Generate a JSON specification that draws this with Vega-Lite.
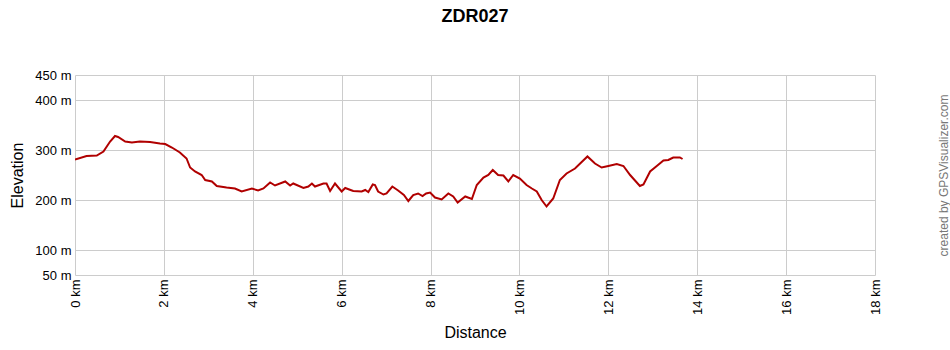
{
  "$schema": "https://vega.github.io/schema/vega-lite/v6.json",
  "width": 800,
  "height": 200,
  "autosize": "none",
  "padding": {"left": 75, "top": 75, "right": 75, "bottom": 75},
  "background": "white",
  "config": {
    "view": {"stroke": null},
    "font": "Liberation Sans",
    "axis": {"labelFont": "Liberation Sans", "titleFont": "Liberation Sans", "labelColor": "#000000", "titleColor": "#000000", "gridColor": "#cccccc", "gridOpacity": 1, "gridWidth": 1}
  },
  "title": {"text": "ZDR027", "fontSize": 18, "fontWeight": "bold", "font": "Liberation Sans", "anchor": "middle", "offset": 43, "color": "#000000"},
  "data": {"values": [
    {"km": 0.00, "ele": 281}, {"km": 0.26, "ele": 288}, {"km": 0.49, "ele": 289}, {"km": 0.64, "ele": 297},
    {"km": 0.79, "ele": 317}, {"km": 0.90, "ele": 328}, {"km": 0.97, "ele": 326}, {"km": 1.13, "ele": 317},
    {"km": 1.28, "ele": 315}, {"km": 1.46, "ele": 317}, {"km": 1.69, "ele": 316}, {"km": 1.91, "ele": 313},
    {"km": 2.03, "ele": 312}, {"km": 2.18, "ele": 305}, {"km": 2.36, "ele": 295}, {"km": 2.51, "ele": 283},
    {"km": 2.59, "ele": 265}, {"km": 2.70, "ele": 257}, {"km": 2.85, "ele": 250}, {"km": 2.93, "ele": 240},
    {"km": 3.08, "ele": 237}, {"km": 3.19, "ele": 228}, {"km": 3.41, "ele": 225}, {"km": 3.60, "ele": 223},
    {"km": 3.75, "ele": 217}, {"km": 3.98, "ele": 223}, {"km": 4.12, "ele": 219}, {"km": 4.24, "ele": 223},
    {"km": 4.39, "ele": 235}, {"km": 4.50, "ele": 229}, {"km": 4.73, "ele": 237}, {"km": 4.84, "ele": 229},
    {"km": 4.91, "ele": 233}, {"km": 5.14, "ele": 224}, {"km": 5.25, "ele": 227}, {"km": 5.33, "ele": 233},
    {"km": 5.40, "ele": 227}, {"km": 5.59, "ele": 233}, {"km": 5.66, "ele": 233}, {"km": 5.74, "ele": 218},
    {"km": 5.85, "ele": 233}, {"km": 6.00, "ele": 217}, {"km": 6.08, "ele": 224}, {"km": 6.26, "ele": 218},
    {"km": 6.45, "ele": 217}, {"km": 6.53, "ele": 220}, {"km": 6.60, "ele": 216}, {"km": 6.70, "ele": 231},
    {"km": 6.75, "ele": 230}, {"km": 6.82, "ele": 217}, {"km": 6.94, "ele": 211}, {"km": 7.01, "ele": 213},
    {"km": 7.14, "ele": 227}, {"km": 7.27, "ele": 219}, {"km": 7.40, "ele": 210}, {"km": 7.50, "ele": 198},
    {"km": 7.61, "ele": 210}, {"km": 7.72, "ele": 213}, {"km": 7.82, "ele": 208}, {"km": 7.90, "ele": 213},
    {"km": 7.99, "ele": 215}, {"km": 8.10, "ele": 205}, {"km": 8.25, "ele": 201}, {"km": 8.40, "ele": 213},
    {"km": 8.51, "ele": 207}, {"km": 8.61, "ele": 195}, {"km": 8.78, "ele": 207}, {"km": 8.93, "ele": 202},
    {"km": 9.04, "ele": 230}, {"km": 9.19, "ele": 245}, {"km": 9.30, "ele": 250}, {"km": 9.40, "ele": 260},
    {"km": 9.52, "ele": 250}, {"km": 9.64, "ele": 249}, {"km": 9.75, "ele": 237}, {"km": 9.86, "ele": 250},
    {"km": 10.01, "ele": 243}, {"km": 10.16, "ele": 230}, {"km": 10.28, "ele": 223}, {"km": 10.39, "ele": 217},
    {"km": 10.50, "ele": 200}, {"km": 10.61, "ele": 187}, {"km": 10.76, "ele": 203}, {"km": 10.91, "ele": 240},
    {"km": 11.06, "ele": 253}, {"km": 11.25, "ele": 263}, {"km": 11.53, "ele": 287}, {"km": 11.70, "ele": 273},
    {"km": 11.85, "ele": 265}, {"km": 12.00, "ele": 268}, {"km": 12.19, "ele": 272}, {"km": 12.34, "ele": 268},
    {"km": 12.49, "ele": 250}, {"km": 12.71, "ele": 228}, {"km": 12.79, "ele": 231}, {"km": 12.94, "ele": 257},
    {"km": 13.09, "ele": 268}, {"km": 13.24, "ele": 279}, {"km": 13.35, "ele": 280}, {"km": 13.46, "ele": 285},
    {"km": 13.61, "ele": 285}, {"km": 13.67, "ele": 282}
  ]},
  "layer": [
    {
      "mark": {"type": "line", "color": "#b00000", "strokeWidth": 2, "clip": true},
      "encoding": {
        "x": {"field": "km", "type": "quantitative", "scale": {"domain": [0, 18], "nice": false, "zero": false},
          "axis": {"values": [0, 2, 4, 6, 8, 10, 12, 14, 16, 18], "labelExpr": "datum.value + ' km'", "labelAngle": -90, "labelAlign": "right", "labelBaseline": "middle", "labelFontSize": 13, "labelPadding": 4, "ticks": false, "domain": false, "title": "Distance", "titleFontSize": 16, "titleFontWeight": "normal", "titleY": 57, "titleBaseline": "middle", "labelFlush": false, "labelOverlap": false}},
        "y": {"field": "ele", "type": "quantitative", "scale": {"domain": [50, 450], "nice": false, "zero": false},
          "axis": {"values": [50, 100, 200, 300, 400, 450], "labelExpr": "datum.value + ' m'", "labelFontSize": 13, "labelPadding": 4, "ticks": false, "domain": false, "title": "Elevation", "titleFontSize": 16, "titleFontWeight": "normal", "titleX": -58, "titleBaseline": "middle", "titleAngle": -90, "labelFlush": false, "labelOverlap": false}}
      }
    },
    {
      "mark": {"type": "line", "opacity": 0},
      "encoding": {
        "x": {"field": "km", "type": "quantitative"},
        "y": {"field": "ele", "type": "quantitative",
          "axis": {"orient": "right", "labels": false, "ticks": false, "domain": false, "grid": false, "title": "created by GPSVisualizer.com", "titleFontSize": 12, "titleFontWeight": "normal", "titleColor": "#777777", "titleAngle": -90, "titleX": 68, "titleBaseline": "middle"}}
      }
    }
  ],
  "resolve": {"axis": {"y": "independent"}}
}
